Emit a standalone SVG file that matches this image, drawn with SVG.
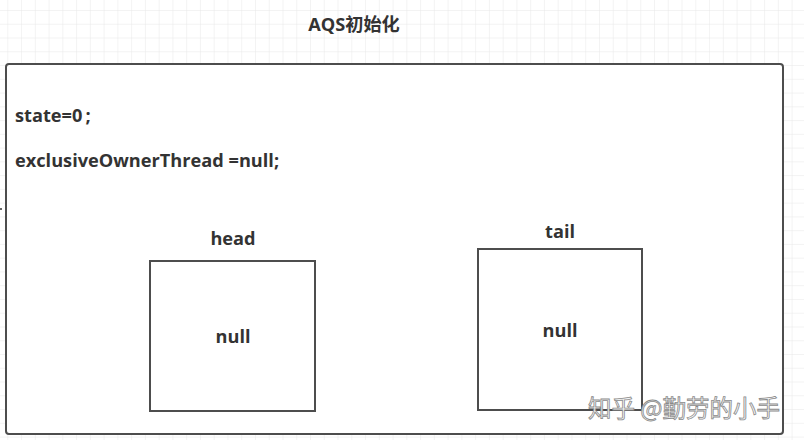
<svg xmlns="http://www.w3.org/2000/svg" width="804" height="440" viewBox="0 0 804 440">
  <defs>
    <pattern id="grid" x="7.3" y="10" width="13.76" height="13.76" patternUnits="userSpaceOnUse">
      <path d="M0 0 V13.76 M0 0 H13.76" fill="none" stroke="#e8e8e8" stroke-width="1"/>
    </pattern>
    <style>
      .t { font-family: "Open Sans", "Noto Sans CJK SC", sans-serif; font-weight: bold; fill: #333333; font-size: 18.2px; }
      .box { fill: #ffffff; stroke: #4d4d4d; stroke-width: 2; }
      .wm { font-family: "Noto Sans CJK SC", sans-serif; font-size: 23.5px; fill: #f6f6f6; stroke: #8a8a8a; stroke-width: 0.8; }
    </style>
  </defs>
  <rect x="0" y="0" width="804" height="440" fill="#ffffff"/>
  <rect x="0" y="0" width="804" height="440" fill="url(#grid)"/>
  <rect x="0" y="208" width="2" height="2" fill="#666666"/>

  <g id="title">
    <text class="t" x="354" y="30.5" text-anchor="middle">AQS初始化</text>
  </g>

  <g id="aqs">
    <rect class="box" x="6" y="64" width="777" height="370" rx="3" ry="3"/>
    <text class="t" x="15" y="122">state=0<tspan dx="3">;</tspan></text>
    <text class="t" x="15" y="167">exclusiveOwnerThread =null;</text>
  </g>

  <g id="head">
    <text class="t" x="233" y="245" text-anchor="middle">head</text>
    <rect class="box" x="150" y="261" width="165" height="150"/>
    <text class="t" x="233" y="343" text-anchor="middle">null</text>
  </g>

  <g id="tail">
    <text class="t" x="560" y="238" text-anchor="middle">tail</text>
    <rect class="box" x="478" y="249" width="164" height="161"/>
    <text class="t" x="560" y="337" text-anchor="middle">null</text>
  </g>

  <g id="connectors"></g>

  <g id="watermark">
    <text class="wm" x="588" y="417">知乎 @勤劳的小手</text>
  </g>
</svg>
